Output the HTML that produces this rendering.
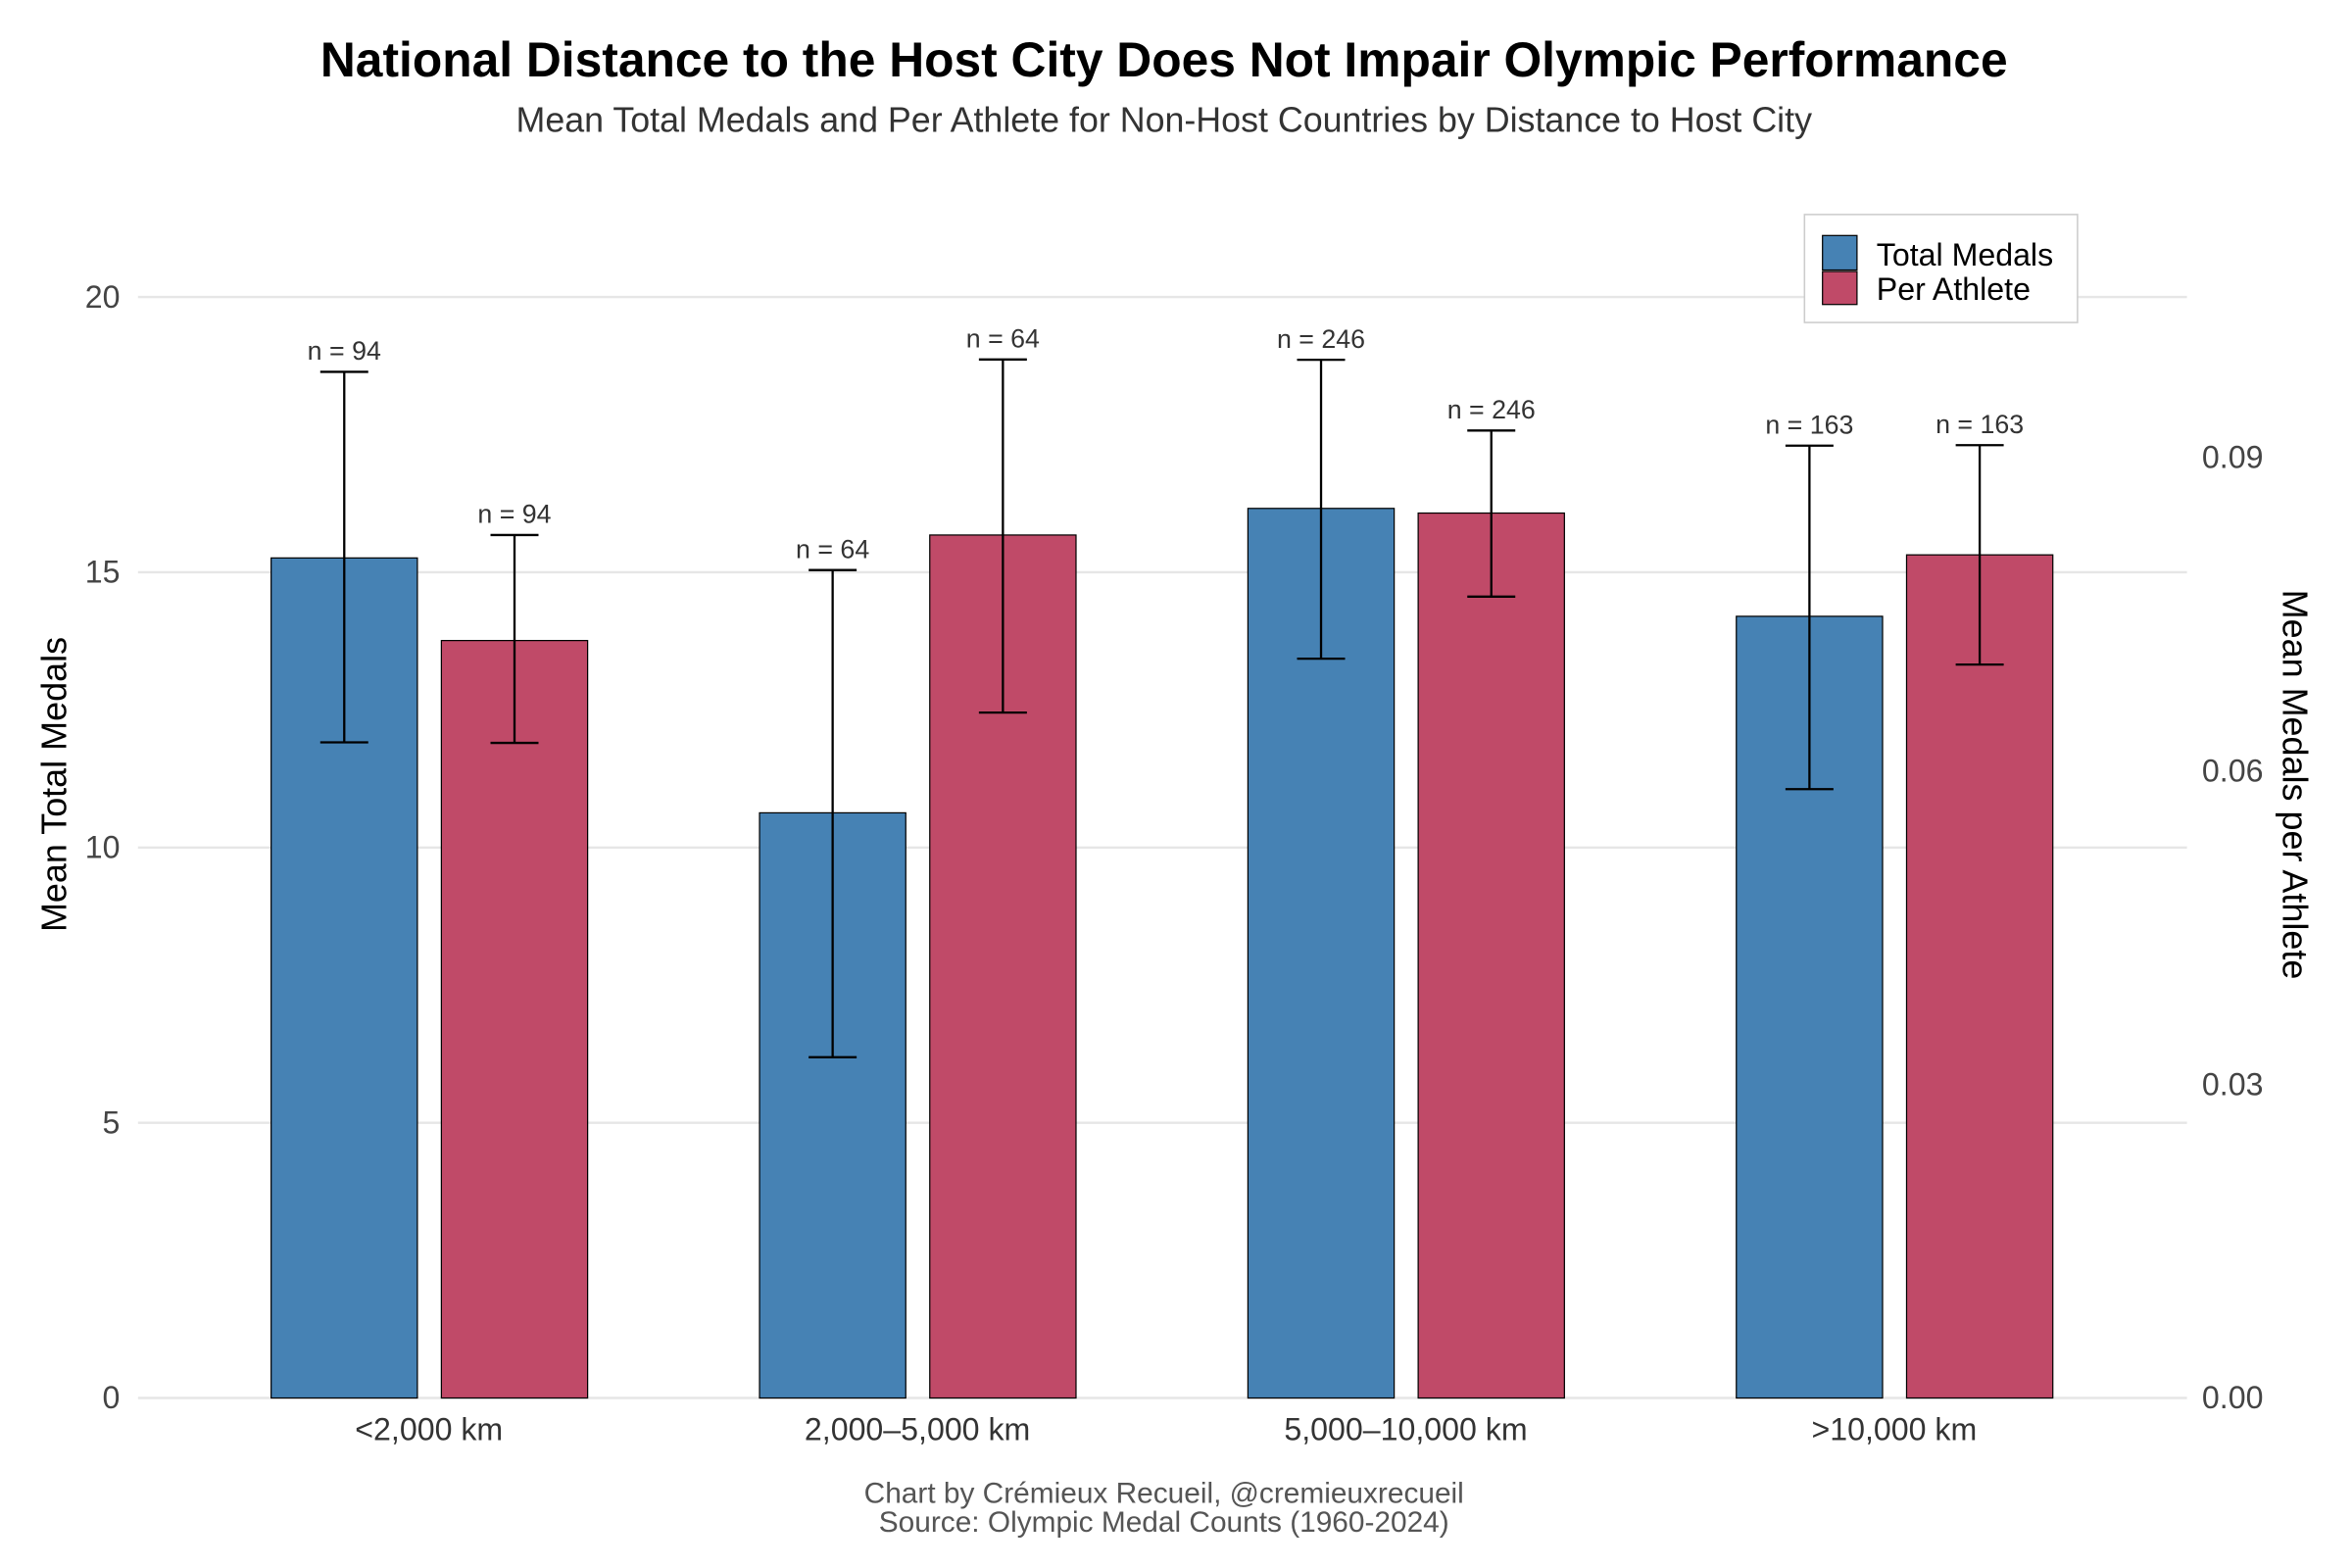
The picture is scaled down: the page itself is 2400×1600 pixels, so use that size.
<!DOCTYPE html>
<html><head><meta charset="utf-8"><style>
html,body{margin:0;padding:0;background:#fff}
svg{display:block;font-family:"Liberation Sans",sans-serif}
</style></head><body>
<svg id="chart" width="2400" height="1600" viewBox="0 0 1568 1045.33" preserveAspectRatio="none" xmlns="http://www.w3.org/2000/svg">
<text x="776" y="51" text-anchor="middle" font-size="32.5" font-weight="bold" fill="#000">National Distance to the Host City Does Not Impair Olympic Performance</text>
<text x="776" y="88" text-anchor="middle" font-size="23.4" fill="#333">Mean Total Medals and Per Athlete for Non-Host Countries by Distance to Host City</text>
<g id="grid"></g><g id="bars"></g><g id="axes"></g>
<text transform="translate(44,523) rotate(-90)" text-anchor="middle" font-size="23.5" fill="#000">Mean Total Medals</text>
<text transform="translate(1522,523) rotate(90)" text-anchor="middle" font-size="23.5" fill="#000">Mean Medals per Athlete</text>
<g>
<rect x="1203" y="143" width="182" height="72" fill="#fff" stroke="#ccc" stroke-width="1"/>
<rect x="1215" y="157" width="23" height="23" fill="#4682b4" stroke="#000" stroke-width="0.8"/>
<text x="1251" y="177" font-size="21">Total Medals</text>
<rect x="1215" y="181" width="23" height="22" fill="#c04a68" stroke="#000" stroke-width="0.8"/>
<text x="1251" y="200" font-size="21">Per Athlete</text>
</g>
<text x="776" y="1002" text-anchor="middle" font-size="19.5" fill="#555">Chart by Crémieux Recueil, @cremieuxrecueil</text>
<text x="776" y="1021" text-anchor="middle" font-size="19.5" fill="#555">Source: Olympic Medal Counts (1960-2024)</text>
</svg>
<script>
const categories=["<2,000 km","2,000–5,000 km","5,000–10,000 km",">10,000 km"];
const totalMean=[15.26,10.63,16.16,14.20];
const totalLo=[11.91,6.19,13.43,11.06];
const totalHi=[18.64,15.04,18.86,17.30];
const perMean=[0.0725,0.0826,0.0847,0.0807];
const perLo=[0.0627,0.0656,0.0767,0.0702];
const perHi=[0.0826,0.0994,0.0926,0.0912];
const nCounts=[94,64,246,163];
const leftTicks=[0,5,10,15,20];
const rightTicks=[0,0.03,0.06,0.09];
const rightTickLabels=["0.00","0.03","0.06","0.09"];

const NS="http://www.w3.org/2000/svg";
const y0=932, pxPerUnit=36.7, rightRatio=0.005269;
const yL=v=>y0-v*pxPerUnit;
const yR=v=>yL(v/rightRatio);
const xCat=i=>286+i*325.6;
function mk(tag,attrs,parent){const e=document.createElementNS(NS,tag);for(const k in attrs)e.setAttribute(k,attrs[k]);parent.appendChild(e);return e;}
const grid=document.getElementById('grid'),bars=document.getElementById('bars'),axes=document.getElementById('axes');
leftTicks.forEach(t=>{
  const l=mk('line',{x1:92,x2:1458,y1:yL(t),y2:yL(t),stroke:'#e6e6e6','stroke-width':1.6},grid);
  
  
  const tx=mk('text',{x:80,y:yL(t)+7,'text-anchor':'end','font-size':21,fill:'#444'},axes);
  tx.textContent=t;
  
  
});
rightTicks.forEach((t,i)=>{
  const tx=mk('text',{x:1468,y:yR(t)+7,'font-size':21,fill:'#444'},axes);
  tx.textContent=rightTickLabels[i];
  
  
});
function errbar(cx,top,bot){
  const g=mk('g',{stroke:'#000','stroke-width':1.5},bars);
  
  
  mk('line',{x1:cx,x2:cx,y1:top,y2:bot},g);
  mk('line',{x1:cx-16,x2:cx+16,y1:top,y2:top},g);
  mk('line',{x1:cx-16,x2:cx+16,y1:bot,y2:bot},g);
}
function nlabel(cx,top,n){
  const t=mk('text',{x:cx,y:top-8,'text-anchor':'middle','font-size':17.5,fill:'#333'},bars);
  t.textContent='n = '+n;
  
  
}
categories.forEach((c,i)=>{
  const cx=xCat(i), bw=97.5;
  const bx=cx-56.5, rx=cx+57;
  const b=mk('rect',{x:bx-bw/2,y:yL(totalMean[i]),width:bw,height:y0-yL(totalMean[i]),fill:'#4682b4',stroke:'#000','stroke-width':0.8},bars);
  
  
  const r=mk('rect',{x:rx-bw/2,y:yR(perMean[i]),width:bw,height:y0-yR(perMean[i]),fill:'#c04a68',stroke:'#000','stroke-width':0.8},bars);
  
  
  errbar(bx,yL(totalHi[i]),yL(totalLo[i]));
  errbar(rx,yR(perHi[i]),yR(perLo[i]));
  nlabel(bx,yL(totalHi[i]),nCounts[i]);
  nlabel(rx,yR(perHi[i]),nCounts[i]);
  const t=mk('text',{x:cx,y:960,'text-anchor':'middle','font-size':21,fill:'#333'},axes);
  t.textContent=c;
  
  
});
</script>
</body></html>
